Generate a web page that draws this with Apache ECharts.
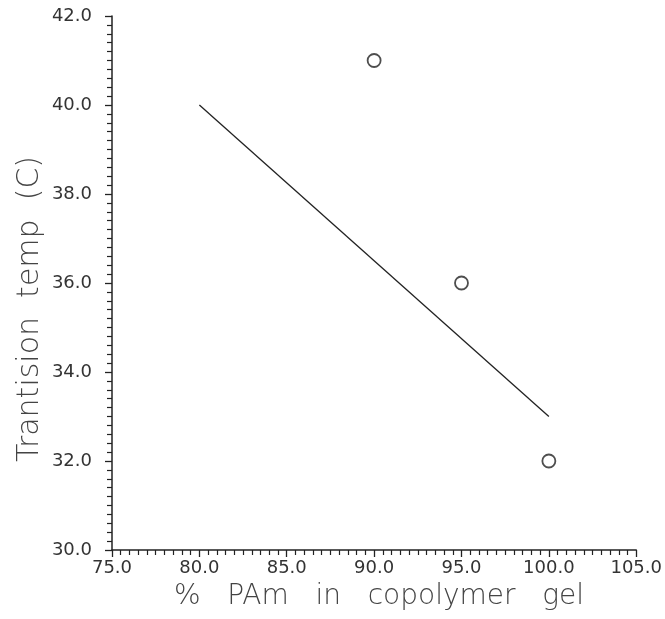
<!DOCTYPE html>
<html>
<head>
<meta charset="utf-8">
<script src="https://cdn.jsdelivr.net/npm/echarts@6/dist/echarts.min.js"></script>
<style>
  html, body { margin: 0; padding: 0; background: #fff; }
  #chart { width: 665px; height: 619px; }
</style>
</head>
<body>
<div id="chart"></div>
<script>
// Measured transition temperatures against PAm content
const pctPAm = [90, 95, 100];
const transTemp = [41.0, 36.0, 32.0];

// Trend line end points
const trendX = [80, 100];
const trendY = [40, 33];

const xTitle = '%   PAm   in   copolymer   gel';
const yTitle = 'Trantision  temp  (C)';

const ink = '#222';
const labelFont = 'DejaVu Sans';

const chart = echarts.init(document.getElementById('chart'), null, { renderer: 'canvas' });

chart.setOption({
  animation: false,
  backgroundColor: '#fff',
  grid: { left: 112, right: 27, top: 16, bottom: 69, containLabel: false },
  xAxis: {
    type: 'value',
    min: 75, max: 105, interval: 5,
    axisLine: { show: true, onZero: false, lineStyle: { color: ink, width: 1.5 } },
    axisTick: { show: true, inside: false, length: 7, lineStyle: { color: ink, width: 1.3 } },
    minorTick: { show: true, splitNumber: 10, length: 5, lineStyle: { color: ink, width: 1.2 } },
    splitLine: { show: false },
    axisLabel: {
      margin: 9, color: '#333', fontFamily: labelFont, fontSize: 18,
      formatter: v => v.toFixed(1)
    }
  },
  yAxis: {
    type: 'value',
    min: 30, max: 42, interval: 2,
    axisLine: { show: true, onZero: false, lineStyle: { color: ink, width: 1.5 } },
    axisTick: { show: true, inside: false, length: 7, lineStyle: { color: ink, width: 1.3 } },
    minorTick: { show: true, splitNumber: 10, length: 5, lineStyle: { color: ink, width: 1.2 } },
    splitLine: { show: false },
    axisLabel: {
      margin: 20, color: '#333', fontFamily: labelFont, fontSize: 18,
      formatter: v => v.toFixed(1)
    }
  },
  graphic: [
    {
      type: 'text', x: 30, y: 309, rotation: Math.PI / 2,
      style: {
        text: yTitle, fill: '#444', font: '300 30px "DejaVu Sans"',
        align: 'center', verticalAlign: 'middle'
      }
    },
    {
      type: 'text', x: 379, y: 597,
      style: {
        text: xTitle, fill: '#444', font: '300 28px "DejaVu Sans"',
        align: 'center', verticalAlign: 'middle'
      }
    }
  ],
  series: [
    {
      type: 'line',
      data: trendX.map((x, i) => [x, trendY[i]]),
      showSymbol: false,
      lineStyle: { color: ink, width: 1.3 },
      silent: true
    },
    {
      type: 'scatter',
      data: pctPAm.map((x, i) => [x, transTemp[i]]),
      symbol: 'circle',
      symbolSize: 13,
      itemStyle: { color: '#fff', borderColor: ink, borderWidth: 1.8 }
    }
  ]
});
</script>
</body>
</html>
